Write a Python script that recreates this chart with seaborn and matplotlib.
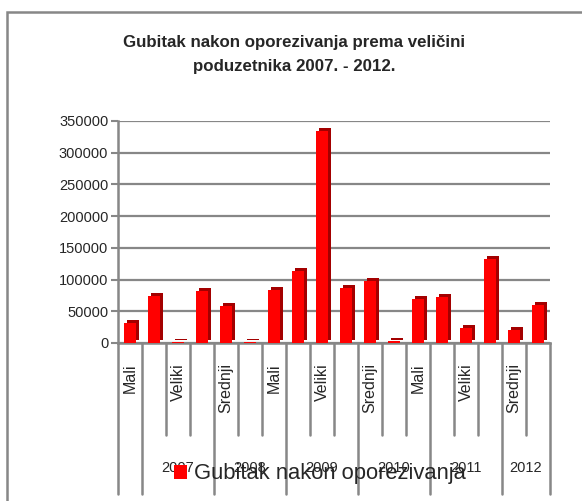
import numpy as np
import pandas as pd
import matplotlib
matplotlib.use('Agg')
import matplotlib.pyplot as plt
import matplotlib.transforms as mtransforms
from matplotlib.patches import Rectangle
import seaborn as sns

# Podaci (procijenjeni s grafikona)
velicina = ['Mali', 'Srednji', 'Veliki'] * 6
godina_po_stupcu = ['', '2007', '2007', '2007', '2008', '2008', '2008',
                    '2009', '2009', '2009', '2010', '2010', '2010',
                    '2011', '2011', '2011', '2012', '2012']
vrijednosti = [31000, 74000, 1500, 82000, 59000, 1500, 84000, 114000, 335000,
               87000, 97000, 3000, 70000, 72000, 23500, 133000, 21000, 59500]
y_ticks = [0, 50000, 100000, 150000, 200000, 250000, 300000, 350000]
naziv_serije = 'Gubitak nakon oporezivanja'

df = pd.DataFrame({'stupac': np.arange(len(vrijednosti)),
                   'velicina': velicina,
                   'godina': godina_po_stupcu,
                   'vrijednost': vrijednosti})

sns.set_style('white')
plt.rcParams['font.family'] = ['Liberation Sans', 'DejaVu Sans']

siva = '#878787'
fig = plt.figure(figsize=(5.82, 5.01), dpi=100)
ax = fig.add_axes([118 / 582, 1 - 343 / 501, 432 / 582, 222 / 501])

# "3D" sjena stupaca
sns.barplot(data=df, x='stupac', y='vrijednost', color='#a30000', width=0.46,
            saturation=1, linewidth=0, ax=ax, zorder=2)
pomak = mtransforms.ScaledTranslation(0.03, 0.03, fig.dpi_scale_trans)
for p in ax.patches:
    p.set_transform(ax.transData + pomak)

sns.barplot(data=df, x='stupac', y='vrijednost', color='#ff0000', width=0.46,
            saturation=1, linewidth=0, ax=ax, zorder=3, label=naziv_serije)
if ax.get_legend() is not None:
    ax.get_legend().remove()

ax.set_ylim(0, 350000)
ax.set_xlim(-0.5, len(vrijednosti) - 0.5)
ax.set_yticks(y_ticks)
ax.set_yticklabels([str(t) for t in y_ticks], fontsize=10.5)
ax.yaxis.grid(True, color=siva, linewidth=1.6)
ax.set_axisbelow(True)
ax.set_xlabel('')
ax.set_ylabel('')

for s in ['top', 'right']:
    ax.spines[s].set_visible(False)
for s in ['left', 'bottom']:
    ax.spines[s].set_color(siva)
    ax.spines[s].set_linewidth(1.8)
ax.tick_params(axis='y', left=True, length=5, color=siva, width=1.5, pad=2)

# Oznake kategorija (svaka druga, kao u Excelu)
pokazi = df['stupac'][::2]
ax.set_xticks(pokazi)
ax.set_xticklabels(df['velicina'][::2], rotation=90, fontsize=11.5, va='top')
ax.tick_params(axis='x', bottom=False, pad=11)

# Razdjelnici i godine ispod osi
tr = mtransforms.blended_transform_factory(ax.transData, ax.transAxes)
god = df['godina'].tolist()
for i in range(len(god) + 1):
    if i == 0 or i == len(god) or god[i] != god[i - 1]:
        dno = -0.68
    else:
        dno = -0.415
    ax.plot([i - 0.5, i - 0.5], [0, dno], color=siva, lw=1.8,
            transform=tr, clip_on=False)

for g in df['godina'].unique():
    if g == '':
        continue
    idx = df.index[df['godina'] == g]
    ax.text((idx.min() + idx.max()) / 2, -0.565, g, transform=tr,
            ha='center', va='center', fontsize=10.5)

# Naslov
fig.text(0.505, 1 - 43 / 501, 'Gubitak nakon oporezivanja prema veličini',
         ha='center', va='center', fontsize=12.2, fontweight='bold')
fig.text(0.505, 1 - 67 / 501, 'poduzetnika 2007. - 2012.',
         ha='center', va='center', fontsize=12.2, fontweight='bold')

# Legenda
h, l = ax.get_legend_handles_labels()
fig.legend(h, l, loc='center', bbox_to_anchor=(320 / 582, 1 - 474 / 501),
           frameon=False, fontsize=15.8, handlelength=0.6, handleheight=0.6,
           handletextpad=0.3, borderpad=0)

# Okvir grafikona
fig.patches.append(Rectangle((7 / 582, -0.1), 1.2, 1.1 - 12 / 501,
                             transform=fig.transFigure, fill=False,
                             edgecolor=siva, linewidth=1.8))

fig.savefig('out.png', dpi=100)
